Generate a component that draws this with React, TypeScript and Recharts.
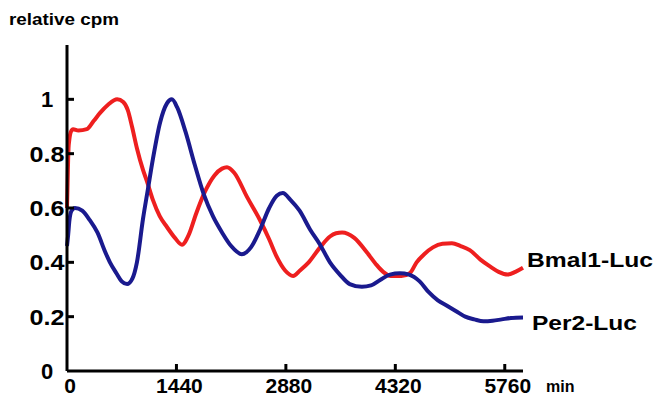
import React from 'react';
import { LineChart, Line, XAxis, YAxis } from 'recharts';

// Per2-Luc (blue), time in min, relative cpm
const per2Time = [0, 15, 30, 60, 105, 200, 300, 400, 500, 565, 650, 720, 790, 860, 920, 1000, 1065, 1130, 1225, 1315, 1380, 1450, 1560, 1680, 1800, 1920, 2040, 2160, 2300, 2420, 2540, 2660, 2760, 2840, 2940, 3060, 3200, 3330, 3460, 3590, 3720, 3880, 4000, 4120, 4250, 4380, 4500, 4640, 4760, 4880, 5000, 5120, 5240, 5360, 5480, 5600, 5720, 5840, 6000];
const per2Value = [0.46, 0.5, 0.55, 0.59, 0.6, 0.59, 0.555, 0.51, 0.44, 0.4, 0.36, 0.33, 0.32, 0.34, 0.4, 0.56, 0.67, 0.78, 0.915, 0.985, 1.0, 0.97, 0.88, 0.76, 0.65, 0.57, 0.51, 0.46, 0.43, 0.455, 0.52, 0.6, 0.645, 0.655, 0.63, 0.59, 0.52, 0.465, 0.4, 0.355, 0.32, 0.31, 0.315, 0.335, 0.355, 0.36, 0.355, 0.33, 0.29, 0.26, 0.24, 0.22, 0.2, 0.19, 0.183, 0.185, 0.19, 0.195, 0.197];

// Bmal1-Luc (red)
const bmalTime = [0, 5, 10, 15, 20, 30, 50, 80, 150, 260, 350, 435, 540, 660, 740, 800, 855, 920, 1000, 1050, 1130, 1220, 1315, 1420, 1513, 1600, 1700, 1815, 1940, 2040, 2105, 2200, 2370, 2540, 2660, 2760, 2870, 2975, 3065, 3180, 3330, 3460, 3540, 3620, 3780, 3950, 4060, 4160, 4260, 4400, 4510, 4600, 4700, 4815, 4940, 5065, 5180, 5300, 5440, 5565, 5680, 5800, 5900, 6000];
const bmalValue = [0.6, 0.66, 0.72, 0.78, 0.82, 0.85, 0.88, 0.89, 0.885, 0.89, 0.92, 0.95, 0.98, 1.0, 0.99, 0.96, 0.9, 0.82, 0.74, 0.7, 0.63, 0.57, 0.53, 0.49, 0.465, 0.5, 0.58, 0.66, 0.72, 0.745, 0.75, 0.73, 0.64, 0.555, 0.485, 0.42, 0.37, 0.35, 0.37, 0.4, 0.455, 0.495, 0.507, 0.51, 0.49, 0.435, 0.395, 0.365, 0.35, 0.35, 0.36, 0.4, 0.43, 0.455, 0.468, 0.47, 0.46, 0.445, 0.41, 0.385, 0.365, 0.355, 0.365, 0.38];

const xTicks = [0, 1440, 2880, 4320, 5760];
const yTicks = [0, 0.2, 0.4, 0.6, 0.8, 1];
const yTickLabels = ['0', '0.2', '0.4', '0.6', '0.8', '1'];

const per2Data = per2Time.map((t, i) => ({ t, v: per2Value[i] }));
const bmalData = bmalTime.map((t, i) => ({ t, v: bmalValue[i] }));

const FONT = '"Liberation Sans", Arial, Helvetica, sans-serif';

const YTick = (props: any) => {
  const { x, y, index } = props;
  const label = yTickLabels[index] ?? String(props.payload.value);
  return (
    <g>
      {props.payload.value !== 0 && (
        <line x1={x} x2={x + 7} y1={y} y2={y} stroke="#000" strokeWidth={3} />
      )}
      <text
        x={x - 20}
        y={y + 8}
        textAnchor="middle"
        fontFamily={FONT}
        fontWeight="bold"
        fontSize={22}
        fill="#000"
        {...(label.length > 1 ? { textLength: 35, lengthAdjust: 'spacingAndGlyphs' } : {})}
      >
        {label}
      </text>
    </g>
  );
};

const XTick = (props: any) => {
  const { x, y, payload } = props;
  return (
    <g>
      {payload.value !== 0 && (
        <line x1={x} x2={x} y1={y} y2={y - 7} stroke="#000" strokeWidth={3} />
      )}
      <text
        x={x + 3}
        y={y + 22}
        textAnchor="middle"
        fontFamily={FONT}
        fontWeight="bold"
        fontSize={21}
        fill="#000"
      >
        {payload.value}
      </text>
    </g>
  );
};

export default function App() {
  return (
    <div style={{ position: 'absolute', left: 0, top: 0, width: 657, height: 396, background: '#fff' }}>
      <LineChart width={657} height={396} margin={{ top: 45, right: 134, bottom: 0, left: 0 }}>
        <XAxis
          type="number"
          dataKey="t"
          domain={[0, 6000]}
          ticks={xTicks}
          tick={<XTick />}
          tickLine={false}
          tickSize={0}
          tickMargin={0}
          height={25}
          axisLine={{ stroke: '#000', strokeWidth: 3 }}
          interval={0}
        />
        <YAxis
          type="number"
          domain={[0, 1.2]}
          ticks={yTicks}
          tick={<YTick />}
          tickLine={false}
          tickSize={0}
          tickMargin={0}
          width={67}
          axisLine={{ stroke: '#000', strokeWidth: 3 }}
          interval={0}
        />
        <Line
          data={bmalData}
          dataKey="v"
          type="monotone"
          stroke="#ee1f1f"
          strokeWidth={4}
          dot={false}
          isAnimationActive={false}
        />
        <Line
          data={per2Data}
          dataKey="v"
          type="monotone"
          stroke="#1a1a8e"
          strokeWidth={4}
          dot={false}
          isAnimationActive={false}
        />
      </LineChart>
      <svg width={657} height={396} style={{ position: 'absolute', left: 0, top: 0, pointerEvents: 'none' }}>
        <text x={9} y={25} fontFamily={FONT} fontWeight="bold" fontSize={16} textLength={110} lengthAdjust="spacingAndGlyphs">
          relative cpm
        </text>
        <text x={527} y={267} fontFamily={FONT} fontWeight="bold" fontSize={20} textLength={126} lengthAdjust="spacingAndGlyphs">
          Bmal1-Luc
        </text>
        <text x={532} y={330} fontFamily={FONT} fontWeight="bold" fontSize={21} textLength={105} lengthAdjust="spacingAndGlyphs">
          Per2-Luc
        </text>
        <text x={546} y={392} fontFamily={FONT} fontWeight="bold" fontSize={16}>
          min
        </text>
      </svg>
    </div>
  );
}
